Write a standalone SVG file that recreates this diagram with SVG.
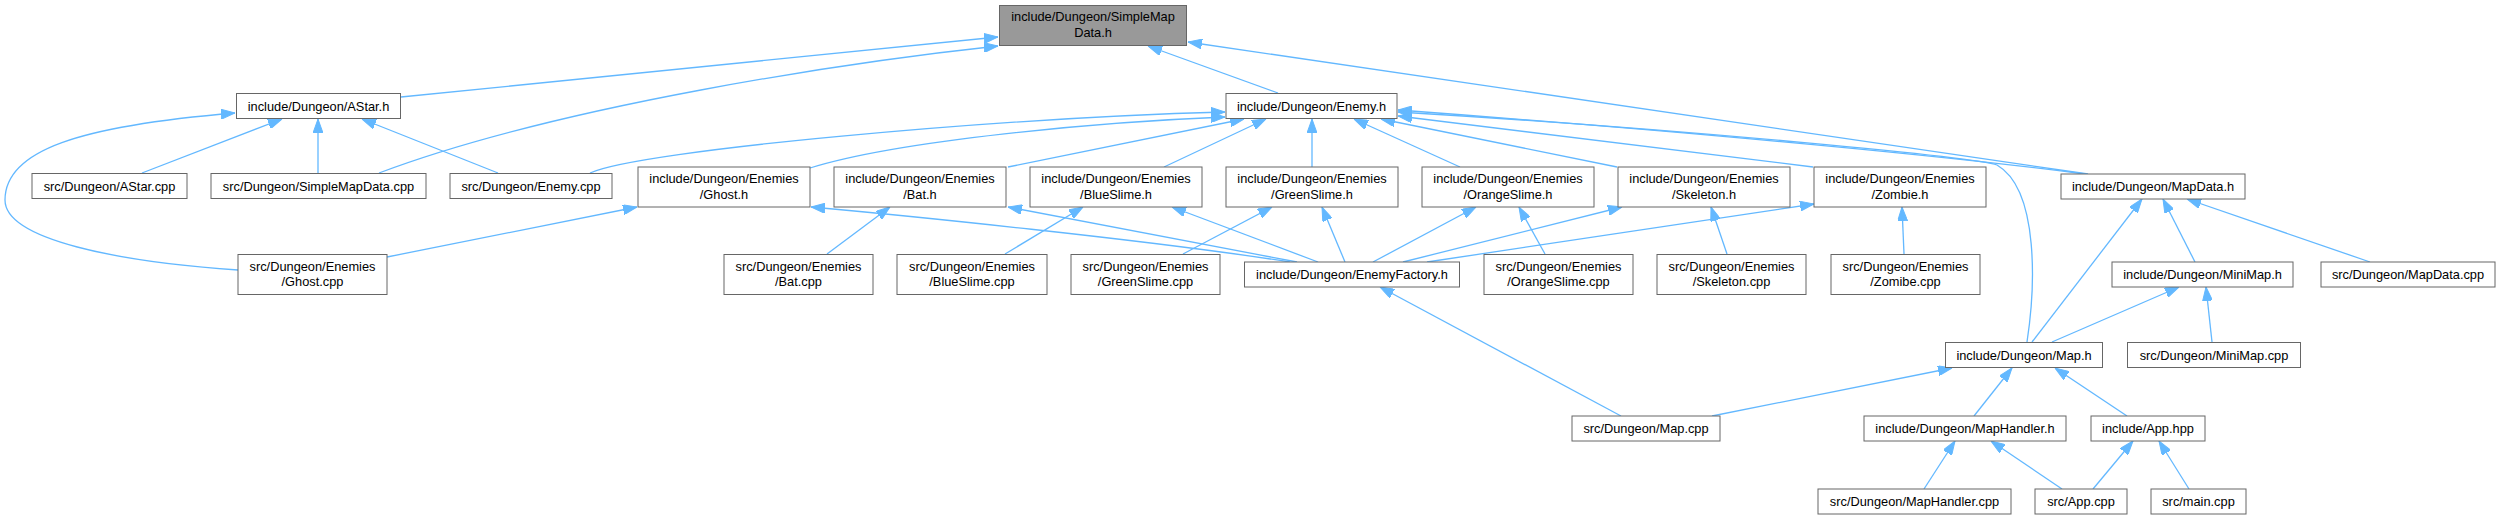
<svg xmlns="http://www.w3.org/2000/svg" width="2498" height="520" viewBox="0 0 2498 520">
<style>
.n rect{fill:#ffffff;stroke:#666666;stroke-width:1}
.root rect{fill:#999999;stroke:#666666;stroke-width:1}
text{font-family:"Liberation Sans",Arial,Helvetica,sans-serif;font-size:12.8px;text-anchor:middle;fill:#000000}
.e path{fill:none;stroke:#63b8ff;stroke-width:1.3;marker-end:url(#a)}
</style>
<defs>
<marker id="a" viewBox="0 0 14 10" refX="14" refY="5" markerWidth="14" markerHeight="10" markerUnits="userSpaceOnUse" orient="auto">
<path d="M0,0 L14,5 L0,10 z" fill="#63b8ff" stroke="#63b8ff" stroke-width="1"/>
</marker>
</defs>
<rect width="2498" height="520" fill="#ffffff"/>
<g id="connectors" class="e">
<path d="M401,97 L998,37"/>
<path d="M379,173 C560,105 850,62 998,46"/>
<path d="M1278,93 L1148,46"/>
<path d="M2088,174 L1188,42"/>
<path d="M142,173 L282,119"/>
<path d="M318,173 L318,119"/>
<path d="M498,173 L362,119"/>
<path d="M238,270 C120,262 5,240 5,200 C5,150 80,126 235,113"/>
<path d="M590,173 C640,150 1000,118 1225,112"/>
<path d="M810,168 C900,140 1100,122 1225,117"/>
<path d="M1008,167 L1244,119"/>
<path d="M1164,167 L1266,119"/>
<path d="M1312,167 L1312,119"/>
<path d="M1460,167 L1354,119"/>
<path d="M1617,167 L1381,119"/>
<path d="M1813,167 L1398,116"/>
<path d="M2085,174 C1900,150 1600,125 1398,110"/>
<path d="M2027,342 C2035,290 2040,190 1997,165 C1980,158 1700,130 1398,112"/>
<path d="M387,257 L637,207"/>
<path d="M1290,262 C1150,240 900,215 811,207"/>
<path d="M1297,262 L1008,207"/>
<path d="M1318,262 L1172,207"/>
<path d="M1345,262 L1322,207"/>
<path d="M1373,262 L1476,207"/>
<path d="M1403,262 L1622,207"/>
<path d="M1427,262 L1814,204"/>
<path d="M827,254 L890,207"/>
<path d="M1005,254 L1083,207"/>
<path d="M1183,254 L1272,207"/>
<path d="M1545,254 L1519,207"/>
<path d="M1727,254 L1711,207"/>
<path d="M1904,254 L1902,207"/>
<path d="M1621,416 L1380,287"/>
<path d="M2032,342 L2142,199"/>
<path d="M2195,262 L2163,199"/>
<path d="M2370,262 L2187,199"/>
<path d="M2052,342 L2179,287"/>
<path d="M2212,342 L2206,287"/>
<path d="M1712,416 L1952,368"/>
<path d="M1974,416 L2012,368"/>
<path d="M2127,416 L2055,368"/>
<path d="M1924,489 L1955,441"/>
<path d="M2062,489 L1991,441"/>
<path d="M2093,489 L2133,441"/>
<path d="M2189,489 L2159,441"/>
</g>
<g id="n_simplemapdata_h" class="root"><rect x="999.5" y="5.5" width="187" height="40"/><text x="1093" y="21">include/Dungeon/SimpleMap</text><text x="1093" y="36.5">Data.h</text></g>
<g id="n_astar_h" class="n"><rect x="236.5" y="93.5" width="164" height="25"/><text x="318.5" y="110.5">include/Dungeon/AStar.h</text></g>
<g id="n_enemy_h" class="n"><rect x="1226" y="93.5" width="171" height="25"/><text x="1311.5" y="110.5">include/Dungeon/Enemy.h</text></g>
<g id="n_astar_cpp" class="n"><rect x="32" y="173.5" width="155" height="25"/><text x="109.5" y="190.5">src/Dungeon/AStar.cpp</text></g>
<g id="n_simplemapdata_cpp" class="n"><rect x="211" y="173.5" width="215" height="25"/><text x="318.5" y="190.5">src/Dungeon/SimpleMapData.cpp</text></g>
<g id="n_enemy_cpp" class="n"><rect x="450" y="173.5" width="162" height="25"/><text x="531" y="190.5">src/Dungeon/Enemy.cpp</text></g>
<g id="n_ghost_h" class="n"><rect x="638" y="167" width="172" height="40"/><text x="724" y="183">include/Dungeon/Enemies</text><text x="724" y="198.5">/Ghost.h</text></g>
<g id="n_bat_h" class="n"><rect x="834" y="167" width="172" height="40"/><text x="920" y="183">include/Dungeon/Enemies</text><text x="920" y="198.5">/Bat.h</text></g>
<g id="n_blueslime_h" class="n"><rect x="1030" y="167" width="172" height="40"/><text x="1116" y="183">include/Dungeon/Enemies</text><text x="1116" y="198.5">/BlueSlime.h</text></g>
<g id="n_greenslime_h" class="n"><rect x="1226" y="167" width="172" height="40"/><text x="1312" y="183">include/Dungeon/Enemies</text><text x="1312" y="198.5">/GreenSlime.h</text></g>
<g id="n_orangeslime_h" class="n"><rect x="1422" y="167" width="172" height="40"/><text x="1508" y="183">include/Dungeon/Enemies</text><text x="1508" y="198.5">/OrangeSlime.h</text></g>
<g id="n_skeleton_h" class="n"><rect x="1618" y="167" width="172" height="40"/><text x="1704" y="183">include/Dungeon/Enemies</text><text x="1704" y="198.5">/Skeleton.h</text></g>
<g id="n_zombie_h" class="n"><rect x="1814" y="167" width="172" height="40"/><text x="1900" y="183">include/Dungeon/Enemies</text><text x="1900" y="198.5">/Zombie.h</text></g>
<g id="n_mapdata_h" class="n"><rect x="2061" y="174" width="184" height="25"/><text x="2153" y="191">include/Dungeon/MapData.h</text></g>
<g id="n_ghost_cpp" class="n"><rect x="238" y="254.5" width="149" height="40"/><text x="312.5" y="270.5">src/Dungeon/Enemies</text><text x="312.5" y="286">/Ghost.cpp</text></g>
<g id="n_bat_cpp" class="n"><rect x="724" y="254.5" width="149" height="40"/><text x="798.5" y="270.5">src/Dungeon/Enemies</text><text x="798.5" y="286">/Bat.cpp</text></g>
<g id="n_blueslime_cpp" class="n"><rect x="897" y="254.5" width="150" height="40"/><text x="972" y="270.5">src/Dungeon/Enemies</text><text x="972" y="286">/BlueSlime.cpp</text></g>
<g id="n_greenslime_cpp" class="n"><rect x="1071" y="254.5" width="149" height="40"/><text x="1145.5" y="270.5">src/Dungeon/Enemies</text><text x="1145.5" y="286">/GreenSlime.cpp</text></g>
<g id="n_enemyfactory_h" class="n"><rect x="1244.5" y="262" width="215" height="25"/><text x="1352" y="279">include/Dungeon/EnemyFactory.h</text></g>
<g id="n_orangeslime_cpp" class="n"><rect x="1484" y="254.5" width="149" height="40"/><text x="1558.5" y="270.5">src/Dungeon/Enemies</text><text x="1558.5" y="286">/OrangeSlime.cpp</text></g>
<g id="n_skeleton_cpp" class="n"><rect x="1657" y="254.5" width="149" height="40"/><text x="1731.5" y="270.5">src/Dungeon/Enemies</text><text x="1731.5" y="286">/Skeleton.cpp</text></g>
<g id="n_zomibe_cpp" class="n"><rect x="1831" y="254.5" width="149" height="40"/><text x="1905.5" y="270.5">src/Dungeon/Enemies</text><text x="1905.5" y="286">/Zomibe.cpp</text></g>
<g id="n_minimap_h" class="n"><rect x="2112" y="262" width="181" height="25"/><text x="2202.5" y="279">include/Dungeon/MiniMap.h</text></g>
<g id="n_mapdata_cpp" class="n"><rect x="2321" y="262" width="174" height="25"/><text x="2408" y="279">src/Dungeon/MapData.cpp</text></g>
<g id="n_map_h" class="n"><rect x="1945.5" y="342.5" width="157" height="25"/><text x="2024" y="359.5">include/Dungeon/Map.h</text></g>
<g id="n_minimap_cpp" class="n"><rect x="2127.5" y="342.5" width="173" height="25"/><text x="2214" y="359.5">src/Dungeon/MiniMap.cpp</text></g>
<g id="n_map_cpp" class="n"><rect x="1572" y="416" width="148" height="25"/><text x="1646" y="433">src/Dungeon/Map.cpp</text></g>
<g id="n_maphandler_h" class="n"><rect x="1864" y="416" width="202" height="25"/><text x="1965" y="433">include/Dungeon/MapHandler.h</text></g>
<g id="n_app_hpp" class="n"><rect x="2091" y="416" width="114" height="25"/><text x="2148" y="433">include/App.hpp</text></g>
<g id="n_maphandler_cpp" class="n"><rect x="1818" y="489" width="193" height="25"/><text x="1914.5" y="506">src/Dungeon/MapHandler.cpp</text></g>
<g id="n_app_cpp" class="n"><rect x="2035" y="489" width="92" height="25"/><text x="2081" y="506">src/App.cpp</text></g>
<g id="n_main_cpp" class="n"><rect x="2151" y="489" width="95" height="25"/><text x="2198.5" y="506">src/main.cpp</text></g>
</svg>
